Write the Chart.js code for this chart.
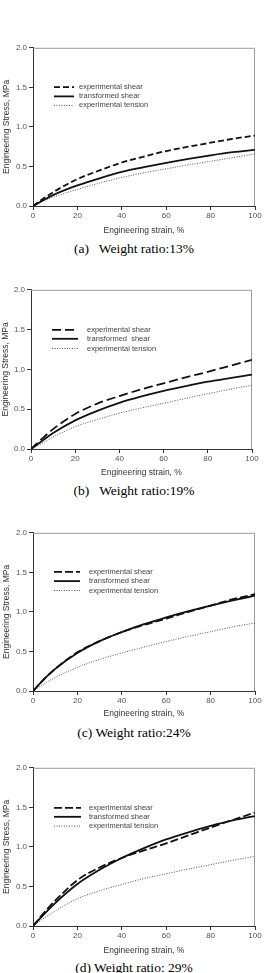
<!DOCTYPE html>
<html><head><meta charset="utf-8">
<script src="https://cdn.jsdelivr.net/npm/chart.js@4"></script>
<style>
html,body{margin:0;padding:0;background:#fff;}
body{width:266px;height:973px;position:relative;overflow:hidden;font-family:"Liberation Sans",Arial,sans-serif;}
.box{position:absolute;left:0;width:266px;}
.cap{position:absolute;left:0;width:268px;text-align:center;font-family:"Liberation Serif","Times New Roman",serif;font-size:13.5px;line-height:14px;color:#000;white-space:pre;}
</style></head><body>
<script>
// ---- data ----
const strain = [0,5,10,20,30,40,50,60,70,80,90,100];
const xTickValues = [0,20,40,60,80,100];
const yTickValues = [0,0.5,1.0,1.5,2.0];
const captions = ["(a)   Weight ratio:13%","(b)   Weight ratio:19%","(c) Weight ratio:24%","(d) Weight ratio: 29%"];
const legendA = ["experimental shear","transformed shear","experimental tension"];
const legendB = ["experimental shear","transformed  shear","experimental tension"];

const expShearA   = [0,0.10,0.19,0.34,0.45,0.55,0.625,0.695,0.75,0.80,0.85,0.89];
const transShearA = [0,0.08,0.15,0.26,0.35,0.43,0.49,0.545,0.595,0.64,0.68,0.71];
const tensionA    = [0,0.065,0.12,0.21,0.29,0.36,0.42,0.47,0.52,0.565,0.61,0.66];

const expShearB   = [0,0.13,0.25,0.44,0.57,0.665,0.75,0.825,0.90,0.97,1.045,1.12];
const transShearB = [0,0.10,0.20,0.36,0.48,0.58,0.66,0.73,0.79,0.845,0.89,0.935];
const tensionB    = [0,0.07,0.15,0.28,0.37,0.45,0.515,0.575,0.635,0.695,0.75,0.80];

const expShearC   = [0,0.15,0.28,0.49,0.63,0.745,0.835,0.915,1.0,1.08,1.16,1.225];
const transShearC = [0,0.15,0.28,0.48,0.63,0.745,0.845,0.93,1.01,1.08,1.145,1.205];
const tensionC    = [0,0.09,0.17,0.30,0.40,0.48,0.555,0.625,0.69,0.75,0.81,0.86];

const expShearD   = [0,0.17,0.32,0.58,0.74,0.86,0.955,1.045,1.145,1.245,1.34,1.435];
const transShearD = [0,0.15,0.29,0.53,0.71,0.86,0.985,1.095,1.185,1.265,1.335,1.39];
const tensionD    = [0,0.10,0.19,0.345,0.445,0.525,0.60,0.66,0.72,0.775,0.83,0.88];

const panels = [
  {series:[expShearA,transShearA,tensionA], labels:legendA, caption:captions[0]},
  {series:[expShearB,transShearB,tensionB], labels:legendB, caption:captions[1]},
  {series:[expShearC,transShearC,tensionC], labels:legendA, caption:captions[2]},
  {series:[expShearD,transShearD,tensionD], labels:legendA, caption:captions[3]}
];

// ---- layout / style (not data) ----
const layouts = [
  {L:33,R:255,T:47,B:206,Xt:231,yT:7,  dash:[6,3], lg:{x1:21,x2:41,tx:46,rows:[39.3,48.6,57.6]}, capY:249},
  {L:31,R:252,T:289,B:449,Xt:473,yT:6, dash:[9,4], lg:{x1:21,x2:47,tx:56,rows:[40,49,58.7]}, capY:491},
  {L:33,R:255,T:532,B:691,Xt:714,yT:7, dash:[8,3], lg:{x1:21,x2:47,tx:56,rows:[39,48.3,57.7]}, capY:733},
  {L:33,R:255,T:767,B:926,Xt:951,yT:7, dash:[8,3], lg:{x1:21,x2:48,tx:56,rows:[40,49,58.3]}, capY:968}
];
const padTop = 6;
const titleFont = {family:'"Liberation Sans", Arial, sans-serif', size:8.5};
const tickFont = {family:'"Liberation Sans", Arial, sans-serif', size:8};

const framePlugin = {
  id:'frame',
  beforeDatasetsDraw(chart){
    const a = chart.chartArea, ctx = chart.ctx;
    ctx.save();
    ctx.strokeStyle = '#9a9a9a'; ctx.lineWidth = 1;
    ctx.beginPath();
    ctx.moveTo(a.left, a.top+0.5); ctx.lineTo(a.right-0.5, a.top+0.5); ctx.lineTo(a.right-0.5, a.bottom);
    ctx.stroke();
    ctx.restore();
  }
};
const legendPlugin = {
  id:'inLegend',
  afterDatasetsDraw(chart, args, opts){
    const a = chart.chartArea, ctx = chart.ctx, lg = opts.lg;
    ctx.save();
    chart.data.datasets.forEach((ds,i)=>{
      const y = a.top + lg.rows[i];
      ctx.strokeStyle = ds.borderColor; ctx.lineWidth = ds.borderWidth;
      ctx.setLineDash(ds.borderDash || []);
      ctx.beginPath(); ctx.moveTo(a.left+lg.x1, y); ctx.lineTo(a.left+lg.x2, y); ctx.stroke();
      ctx.setLineDash([]);
      ctx.fillStyle = '#444';
      ctx.font = '7.5px "Liberation Sans", Arial, sans-serif';
      ctx.textBaseline = 'middle'; ctx.textAlign = 'left';
      ctx.fillText(ds.label, a.left+lg.tx, y);
    });
    ctx.restore();
  }
};

panels.forEach((p, k)=>{
  const lay = layouts[k];
  const axisH = (lay.Xt - lay.B) + 5.1;
  const box = document.createElement('div');
  box.className = 'box';
  box.style.top = (lay.T - padTop) + 'px';
  box.style.height = (lay.B - lay.T + padTop + axisH) + 'px';
  const cv = document.createElement('canvas');
  box.appendChild(cv);
  document.body.appendChild(box);
  const cap = document.createElement('div');
  cap.className = 'cap';
  cap.style.top = (lay.capY - 7) + 'px';
  cap.textContent = p.caption;
  document.body.appendChild(cap);

  const styles = [
    {borderColor:'#111', borderWidth:1.8, borderDash:lay.dash},
    {borderColor:'#111', borderWidth:1.8, borderDash:[]},
    {borderColor:'#555', borderWidth:1, borderDash:[1,1.5]}
  ];
  const datasets = p.series.map((vals,i)=>Object.assign({
    label:p.labels[i],
    data: strain.map((s,j)=>({x:s,y:vals[j]})),
    pointRadius:0, fill:false, cubicInterpolationMode:'monotone'
  }, styles[i]));

  new Chart(cv, {
    type:'line',
    data:{datasets},
    options:{
      responsive:true, maintainAspectRatio:false, animation:false,
      layout:{padding:{top:padTop,right:266-lay.R,left:0,bottom:0}},
      plugins:{legend:{display:false}, tooltip:{enabled:false}, inLegend:{lg:lay.lg}},
      scales:{
        x:{type:'linear', position:'bottom', min:0, max:100,
          afterBuildTicks:s=>{s.ticks = xTickValues.map(v=>({value:v}));},
          afterFit:s=>{s.height = axisH;},
          ticks:{font:tickFont, color:'#555', padding:1, maxRotation:0, callback:v=>String(v)},
          grid:{drawOnChartArea:false, drawTicks:true, tickLength:4, color:'#333'},
          border:{display:true, color:'#333', width:1},
          title:{display:true, text:'Engineering strain, %', font:titleFont, color:'#333', padding:{top:0,bottom:0}}
        },
        y:{type:'linear', position:'left', min:0, max:2,
          afterBuildTicks:s=>{s.ticks = yTickValues.map(v=>({value:v}));},
          afterFit:s=>{s.width = lay.L;},
          ticks:{font:tickFont, color:'#555', padding:2, callback:v=>Number(v).toFixed(1)},
          grid:{drawOnChartArea:false, drawTicks:true, tickLength:4, color:'#333'},
          border:{display:true, color:'#333', width:1},
          title:{display:true, text:'Engineering Stress, MPa', font:titleFont, color:'#333', padding:{top:lay.yT-5.1,bottom:0}}
        }
      }
    },
    plugins:[framePlugin, legendPlugin]
  });
});
</script>
</body></html>
